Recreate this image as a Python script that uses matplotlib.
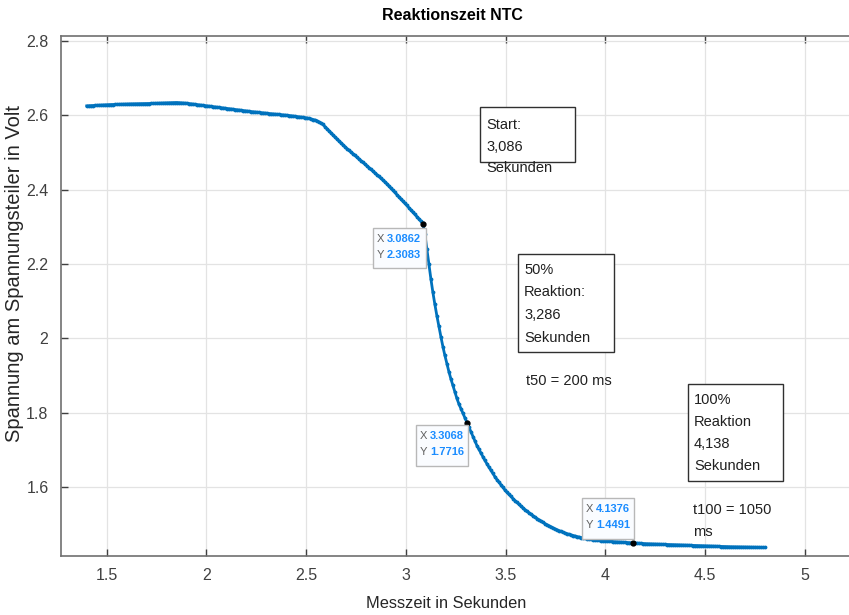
import numpy as np
import matplotlib
matplotlib.use("Agg")
import matplotlib.pyplot as plt
from matplotlib.patches import Rectangle

plt.rcParams['font.family'] = ['Liberation Sans', 'DejaVu Sans']

zeit = [1.40, 1.50, 1.60, 1.70, 1.80, 1.85, 1.90, 2.00, 2.10, 2.20, 2.30, 2.40,
        2.50, 2.55, 2.58, 2.61, 2.65, 2.70, 2.80, 2.90, 3.00, 3.0862, 3.095,
        3.105, 3.115, 3.13, 3.15, 3.17, 3.19, 3.22, 3.26, 3.3068, 3.35, 3.40,
        3.45, 3.50, 3.55, 3.60, 3.65, 3.70, 3.75, 3.80, 3.85, 3.90, 3.95, 4.00,
        4.1376, 4.20, 4.40, 4.60, 4.80]
spannung = [2.625, 2.628, 2.630, 2.631, 2.633, 2.634, 2.632, 2.625, 2.618, 2.611,
            2.605, 2.600, 2.593, 2.586, 2.577, 2.560, 2.538, 2.512, 2.466, 2.418,
            2.360, 2.3083, 2.280, 2.240, 2.200, 2.140, 2.075, 2.018, 1.965, 1.900,
            1.830, 1.7716, 1.717, 1.667, 1.624, 1.589, 1.561, 1.537, 1.517, 1.500,
            1.486, 1.475, 1.467, 1.461, 1.457, 1.454, 1.4491, 1.447, 1.443, 1.439,
            1.437]

# Datentipps
tip_x = [3.0862, 3.3068, 4.1376]
tip_y = [2.3083, 1.7716, 1.4491]
# Box relativ zum Punkt in Pixeln: links, rechts, oben, unten (y nach oben)
tip_box = [(-50, 3, -4, -44), (-51, 1, -2, -43), (-51, 1, 45, 4)]

W, H = 849, 615
fig = plt.figure(figsize=(W / 100, H / 100), dpi=100)
ax = fig.add_axes([61 / W, (H - 556) / H, (W - 61) / W, (556 - 36) / H])

# Kurve mit feinen Punkten
t_fine = np.linspace(zeit[0], zeit[-1], 340)
u_fine = np.interp(t_fine, zeit, spannung)
ax.plot(t_fine, u_fine, color='#0072BD', lw=2.0, marker='.', ms=3.5,
        markevery=1, zorder=3)
ax.plot(tip_x, tip_y, 'o', color='black', ms=3.5, zorder=4)

ax.set_xlim(1.271, 5.221)
ax.set_ylim(1.414, 2.813)
ax.set_xticks([1.5, 2, 2.5, 3, 3.5, 4, 4.5, 5])
ax.set_xticklabels(['1.5', '2', '2.5', '3', '3.5', '4', '4.5', '5'])
ax.set_yticks([1.6, 1.8, 2.0, 2.2, 2.4, 2.6, 2.8])
ax.set_yticklabels(['1.6', '1.8', '2', '2.2', '2.4', '2.6', '2.8'])
ax.grid(True, color='#e3e3e3', lw=0.9)
ax.set_axisbelow(True)
ax.tick_params(direction='in', length=5, width=1, colors='#404040',
               labelsize=11.5, top=True, right=False, pad=9)
for s in ['left', 'top', 'bottom']:
    ax.spines[s].set_color('#707070')
    ax.spines[s].set_linewidth(1.2)
ax.spines['right'].set_visible(False)

fig.text(452 / W, 1 - 16 / H, 'Reaktionszeit NTC', ha='center', va='center',
         fontsize=11.5, fontweight='bold', color='black')
fig.text(446 / W, 1 - 604 / H, 'Messzeit in Sekunden', ha='center',
         va='center', fontsize=11.8, color='#262626')
fig.text(15 / W, 1 - 274 / H, 'Spannung am Spannungsteiler in Volt',
         ha='center', va='center', rotation=90, fontsize=14.5, color='#262626')

# Datentipps zeichnen
fig.canvas.draw()
for x, y, (l, r, t, b) in zip(tip_x, tip_y, tip_box):
    px, py = ax.transData.transform((x, y))
    x0, x1, y0, y1 = px + l, px + r, py + b, py + t
    fig.patches.append(Rectangle((x0 / W, y0 / H), (x1 - x0) / W, (y1 - y0) / H,
                                 transform=fig.transFigure, facecolor='#fafcff',
                                 edgecolor='#b8b8b8', lw=1.0, zorder=5))
    for k, (lab, val) in enumerate([('X', x), ('Y', y)]):
        ty = y1 - 11 - 16 * k
        fig.text((x0 + 4) / W, ty / H, lab, ha='left', va='center',
                 fontsize=8, color='#606060', zorder=6)
        fig.text((x0 + 14) / W, ty / H, f'{val:.4f}', ha='left', va='center',
                 fontsize=8, color='#1a8cff', fontweight='bold', zorder=6)

# Textfelder
boxes = [
    (480, 575, 107, 162, ['Start:', '3,086', 'Sekunden'], 125, 21.5),
    (518, 614, 254, 352, ['50%', 'Reaktion:', '3,286', 'Sekunden'], 270, 22.5),
    (688, 783, 384, 481, ['100%', 'Reaktion', '4,138', 'Sekunden'], 400, 22),
]
for x0, x1, y0, y1, lines, ly, dl in boxes:
    fig.patches.append(Rectangle((x0 / W, 1 - y1 / H), (x1 - x0) / W,
                                 (y1 - y0) / H, transform=fig.transFigure,
                                 facecolor='white', edgecolor='#303030',
                                 lw=1.0, zorder=5))
    for k, s in enumerate(lines):
        fig.text((x0 + 6) / W, 1 - (ly + dl * k) / H, s, ha='left',
                 va='center', fontsize=10.5, color='#202020', zorder=6)

fig.text(526 / W, 1 - 381 / H, 't50 = 200 ms', ha='left', va='center',
         fontsize=10.5, color='#202020')
fig.text(693 / W, 1 - 510 / H, 't100 = 1050', ha='left', va='center',
         fontsize=10.5, color='#202020')
fig.text(693 / W, 1 - 532 / H, 'ms', ha='left', va='center',
         fontsize=10.5, color='#202020')

fig.savefig('out.png', dpi=100)
